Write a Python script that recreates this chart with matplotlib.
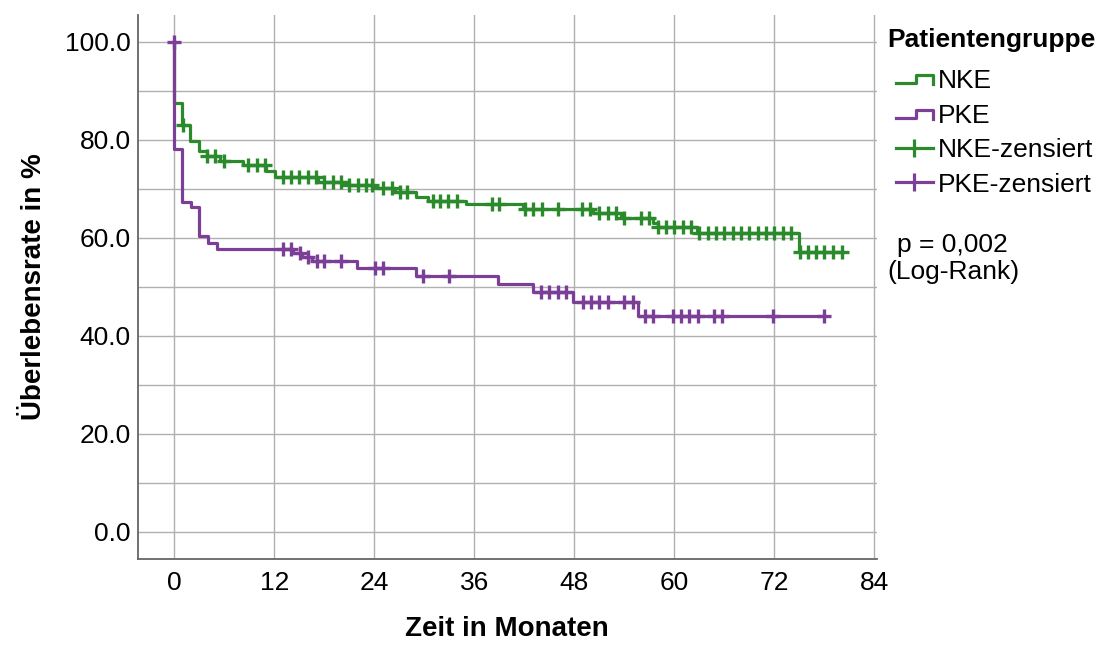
import matplotlib
matplotlib.use('Agg')
import matplotlib.pyplot as plt
import numpy as np
from matplotlib.lines import Line2D
from matplotlib.legend_handler import HandlerBase

plt.rcParams['font.family'] = ['Liberation Sans', 'DejaVu Sans']

# DATA
# NKE: step times (months) and survival after each step (%)
nke_t = [0, 0, 0.96, 1.9, 2.96, 3.9, 5.5, 8.3, 11.0, 12.1, 17.3, 21.0, 24.0, 26.5,
         29.0, 30.4, 35.0, 41.8, 50.3, 53.6, 57.4, 58.0, 62.7, 75.0]
nke_s = [100, 87.4, 83.0, 79.8, 77.6, 76.7, 75.7, 74.8, 73.6, 72.4, 71.4, 70.8, 70.2, 69.4,
         68.4, 67.5, 66.8, 65.8, 65.0, 64.1, 63.1, 62.2, 60.9, 57.1]
nke_end = 80.2
nke_cens = [1.1, 3.9, 4.9, 6.0, 8.9, 9.9, 10.9, 13, 14, 15, 16, 17, 18, 19, 20, 21, 22, 23,
            23.7, 25.1, 26.1, 27.1, 27.9, 31.1, 31.9, 32.9, 33.9, 38.1, 39.0, 42.1, 43.1,
            44.1, 46.1, 48.9, 49.9, 51, 52, 53, 54, 56, 57, 58, 59, 60, 61, 62, 63, 64, 65,
            66, 67, 68, 69, 70, 71, 72, 73, 74, 75.1, 76, 77, 78, 79, 80.1]

# PKE
pke_t = [0, 0, 0.9, 2.0, 2.96, 4.1, 5.1, 14.3, 15.3, 16.5, 21.9, 29.0, 38.8, 43.0, 47.8, 55.7]
pke_s = [100, 78.2, 67.3, 66.3, 60.3, 59.0, 57.8, 56.9, 56.1, 55.2, 53.8, 52.2, 50.6, 49.0,
         46.9, 44.0]
pke_end = 78.0
pke_cens = [0, 13.1, 14.0, 15.1, 16.1, 17.1, 18.0, 20.0, 24.1, 25.0, 29.9, 33.0, 44.0, 45.0,
            46.0, 47.0, 49.0, 50.0, 51.0, 52.0, 54.0, 55.0, 56.5, 57.5, 59.8, 60.8, 61.8,
            62.8, 64.8, 65.7, 71.8, 78.0]

x_ticks = [0, 12, 24, 36, 48, 60, 72, 84]
y_ticks = [0, 20, 40, 60, 80, 100]

GREEN = '#2b8a2b'
PURPLE = '#7b3f98'
LW = 2.3


def surv_at(times, surv, c):
    if c <= times[0]:
        return surv[0]
    i = np.searchsorted(times, c, side='right') - 1
    return surv[i]


class StepHandler(HandlerBase):
    def create_artists(self, legend, orig_handle, xdescent, ydescent, width, height,
                       fontsize, trans):
        xs = np.array([0, 0.55, 0.55, 1.0, 1.0]) * width - xdescent
        ys = np.array([0.25, 0.25, 0.7, 0.7, 0.2]) * height - ydescent
        ln = Line2D(xs, ys, color=orig_handle.get_color(), lw=orig_handle.get_linewidth())
        ln.set_transform(trans)
        return [ln]


fig = plt.figure(figsize=(11.08, 6.46), dpi=100)
W, H = 1108, 646
ax = fig.add_axes([137.5 / W, (H - 558.7) / H, (876.7 - 137.5) / W, (558.7 - 15) / H])

for t, s, end, cens, col in [(nke_t, nke_s, nke_end, nke_cens, GREEN),
                             (pke_t, pke_s, pke_end, pke_cens, PURPLE)]:
    ax.step(t + [end], s + [s[-1]], where='post', color=col, lw=LW, zorder=3)
    cy = [surv_at(t, s, c) for c in cens]
    ax.plot(cens, cy, linestyle='none', marker='+', ms=9.5, mew=2.4, color=col, zorder=4)

ax.set_xlim(-4.42, 84.29)
ax.set_ylim(-5.5, 105.45)
ax.set_xticks(x_ticks)
ax.set_yticks(y_ticks)
ax.set_yticks([10, 30, 50, 70, 90], minor=True)
ax.set_yticklabels([f'{v:.1f}' for v in y_ticks])
ax.grid(True, which='both', color='#b0b0b0', lw=1.0)
ax.set_axisbelow(True)
ax.tick_params(which='both', length=0, labelsize=19)
ax.tick_params(axis='x', pad=9)
ax.tick_params(axis='y', pad=5)
for side in ['top', 'right']:
    ax.spines[side].set_visible(False)
for side in ['left', 'bottom']:
    ax.spines[side].set_color('#666666')
    ax.spines[side].set_linewidth(1.3)

ax.set_xlabel('Zeit in Monaten', fontsize=20, fontweight='bold', labelpad=15)
ax.set_ylabel('Überlebensrate in %', fontsize=20, fontweight='bold', labelpad=13)

# legend
fig.text(887 / W, 1 - 40 / H, 'Patientengruppe', fontsize=19, fontweight='bold',
         ha='left', va='center')
h_nke = Line2D([], [], color=GREEN, lw=LW)
h_pke = Line2D([], [], color=PURPLE, lw=LW)
h_nke_c = Line2D([], [], color=GREEN, lw=LW, marker='|', ms=13, mew=2.3)
h_pke_c = Line2D([], [], color=PURPLE, lw=LW, marker='|', ms=13, mew=2.3)
fig.legend([h_nke, h_pke, h_nke_c, h_pke_c],
           ['NKE', 'PKE', 'NKE-zensiert', 'PKE-zensiert'],
           handler_map={h_nke: StepHandler(), h_pke: StepHandler()},
           loc='upper left', bbox_to_anchor=(896 / W, 1 - 69 / H), frameon=False,
           fontsize=19, handlelength=1.4, handletextpad=0.2, labelspacing=0.4,
           borderpad=0, borderaxespad=0, numpoints=1)

fig.text(897 / W, 1 - 245 / H, 'p = 0,002', fontsize=19, ha='left', va='center')
fig.text(887 / W, 1 - 272 / H, '(Log-Rank)', fontsize=19, ha='left', va='center')

fig.savefig('out.png', dpi=100)
